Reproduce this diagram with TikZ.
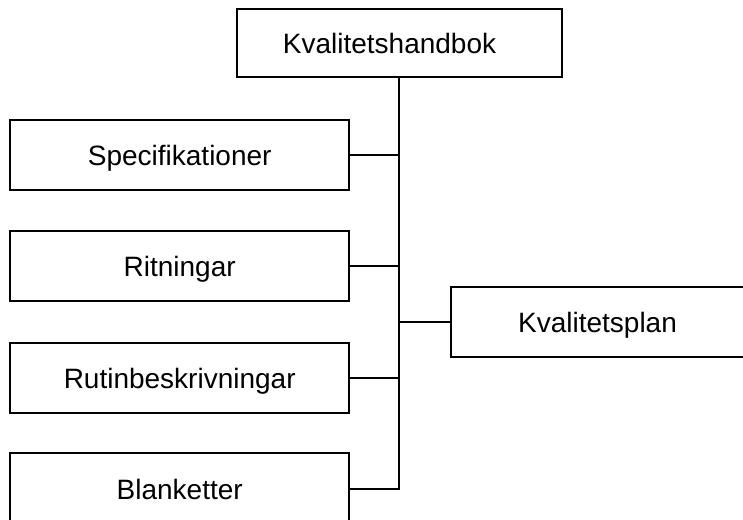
\documentclass[tikz,border=0pt]{standalone}
\usepackage{fontspec}
\setmainfont{Liberation Sans}
\begin{document}
\begin{tikzpicture}[x=1pt,y=-1pt,
  box/.style={draw, line width=2pt, rectangle, inner sep=0pt, minimum height=70pt},
  lab/.style={font=\fontsize{28}{34}\selectfont, inner sep=0pt, text height=20pt, text depth=0pt},
  conn/.style={line width=2pt}]
\useasboundingbox (0,0) rectangle (743,519);
\clip (0,0) rectangle (743,519);
\node[box, minimum width=325pt, minimum height=68pt] (hb) at (399.2,43) {};
\node[lab] (hbt) at (389.5,43) {Kvalitetshandbok};
\node[box, lab, minimum width=339pt, minimum height=70pt] (spec) at (179.7,155.3) {Specifikationer};
\node[box, lab, minimum width=339pt, minimum height=70pt] (rit) at (179.7,266) {Ritningar};
\node[box, lab, minimum width=339pt, minimum height=70pt] (rut) at (179.7,378) {Rutinbeskrivningar};
\node[box, lab, minimum width=339pt, minimum height=72pt] (bl) at (179.7,489.3) {Blanketter};
\node[box, minimum width=314pt, minimum height=70.6pt] (kp) at (607.7,322) {};
\node[lab] (kpt) at (597.5,322) {Kvalitetsplan};
\coordinate (end) at (bl.east -| hb.south);
\draw[conn] (hb.south) -- (end) -- (bl.east);
\draw[conn] (spec.east) -- (spec.east -| hb.south);
\draw[conn] (rit.east) -- (rit.east -| hb.south);
\draw[conn] (rut.east) -- (rut.east -| hb.south);
\draw[conn] (kp.west) -- (kp.west -| hb.south);
\end{tikzpicture}
\end{document}
